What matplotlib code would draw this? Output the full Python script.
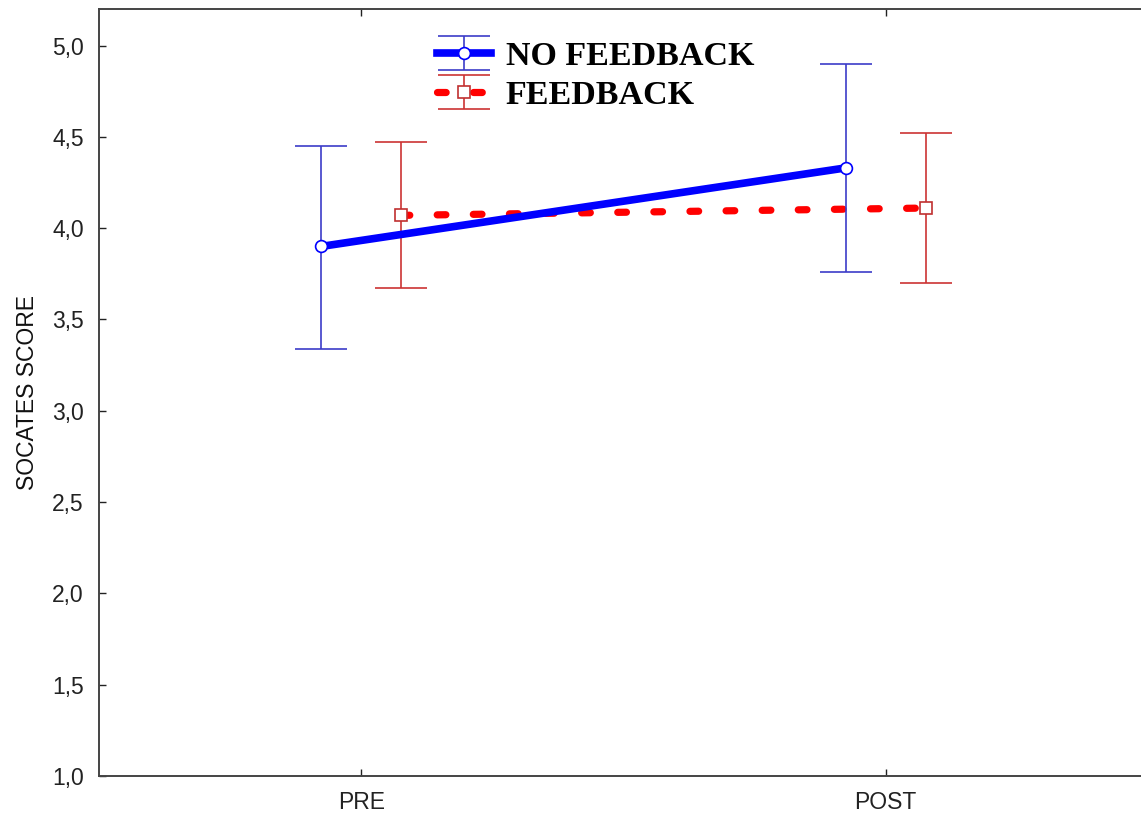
import matplotlib
matplotlib.use("Agg")
import matplotlib.pyplot as plt
import numpy as np


# values
time_points = ["PRE", "POST"]

no_feedback_mean = [3.90, 4.33]
no_feedback_low = [3.34, 3.76]
no_feedback_high = [4.45, 4.90]

feedback_mean = [4.07, 4.11]
feedback_low = [3.67, 3.70]
feedback_high = [4.47, 4.52]

y_ticks = [1.0, 1.5, 2.0, 2.5, 3.0, 3.5, 4.0, 4.5, 5.0]


def error_pairs(mean, low, high):
    mean = np.array(mean)
    return [mean - np.array(low), np.array(high) - mean]


def main():
    plt.rcParams["font.family"] = ["Liberation Sans", "DejaVu Sans"]

    fig = plt.figure(figsize=(11.41, 8.19), dpi=100)
    # right edge runs a little past the picture, as in the original
    ax = fig.add_axes([99 / 1141, 1 - 776 / 819, 1049 / 1141, 767 / 819])

    x = np.arange(len(time_points))
    offset = 0.076

    blue = ax.errorbar(
        x - offset,
        no_feedback_mean,
        yerr=error_pairs(no_feedback_mean, no_feedback_low, no_feedback_high),
        color="#0000ff",
        linewidth=5.5,
        marker="o",
        markersize=8.5,
        markerfacecolor="white",
        markeredgecolor="#0000ff",
        markeredgewidth=1.2,
        ecolor="#3c3cc8",
        elinewidth=1.2,
        capsize=19,
        capthick=1.2,
        label="NO FEEDBACK",
        zorder=3,
    )
    red = ax.errorbar(
        x + offset,
        feedback_mean,
        yerr=error_pairs(feedback_mean, feedback_low, feedback_high),
        color="#ff0000",
        linewidth=5.2,
        marker="s",
        markersize=8,
        markerfacecolor="white",
        markeredgecolor="#c03030",
        markeredgewidth=1.2,
        ecolor="#cc3333",
        elinewidth=1.2,
        capsize=19,
        capthick=1.2,
        label="FEEDBACK",
        zorder=2,
    )
    red.lines[0].set_dashes((1.2, 3.8))
    red.lines[0].set_dash_capstyle("round")

    ax.set_xlim(-0.5, 1.5)
    ax.set_ylim(1.0, 5.2)
    ax.set_xticks(x)
    ax.set_xticklabels(time_points)
    ax.set_yticks(y_ticks)
    ax.set_yticklabels([f"{v:.1f}".replace(".", ",") for v in y_ticks])
    ax.tick_params(direction="in", length=5, width=1, colors="#222222",
                   labelsize=16.5, top=True)
    ax.tick_params(axis="x", pad=11)
    ax.tick_params(axis="y", pad=11)
    for side in ["left", "bottom", "top", "right"]:
        ax.spines[side].set_color("#444444")
        ax.spines[side].set_linewidth(1.4)

    ax.set_ylabel("SOCATES SCORE", fontsize=16.5, labelpad=9, color="#111111")

    ax.legend(
        handles=[blue, red],
        loc="upper left",
        bbox_to_anchor=(420 / 1141, 1 - 24 / 819),
        bbox_transform=fig.transFigure,
        frameon=False,
        prop={"family": "Liberation Serif", "weight": "bold", "size": 24.5},
        handlelength=1.6,
        handletextpad=0.42,
        labelspacing=0.22,
        borderpad=0,
    )

    fig.savefig("out.png", dpi=100)


if __name__ == "__main__":
    main()
